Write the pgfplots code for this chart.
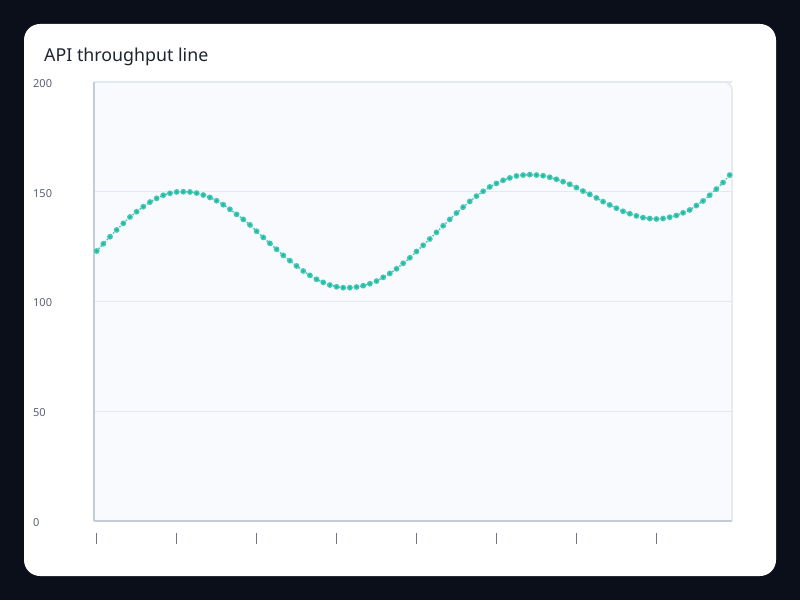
\documentclass[border=0pt]{standalone}
\usepackage{fontspec}
\setmainfont{Noto Sans}
\usepackage{pgfplots}
\pgfplotsset{compat=1.18}
\definecolor{pagebg}{RGB}{11,15,25}
\definecolor{plotbg}{RGB}{248,250,253}
\definecolor{axiscol}{RGB}{196,203,217}
\definecolor{gridcol}{RGB}{228,232,240}
\definecolor{linecol}{RGB}{20,184,160}
\definecolor{titlecol}{RGB}{30,36,48}
\definecolor{labelcol}{RGB}{90,97,112}
\definecolor{tickcol}{RGB}{110,118,134}

\begin{document}
\begin{tikzpicture}[x=1pt,y=1pt]
\useasboundingbox (0,0) rectangle (800,600);
\fill[pagebg] (0,0) rectangle (800,600);
\fill[white, rounded corners=16pt] (24,24) rectangle (776,576);
% plot area background, rounded top right corner
\fill[plotbg] (94,79) -- (94,518) [rounded corners=8pt]-- (732,518) [sharp corners]-- (732,79) -- cycle;
\draw[gridcol, line width=1.5pt, rounded corners=8pt] (94,518) -- (732,518) -- (732,79);
\node[anchor=base west, inner sep=0pt, font=\fontsize{17.8}{21}\selectfont, text=titlecol]
  at (44,538) {API throughput line};

\begin{axis}[
  at={(94pt,79pt)}, anchor=south west,
  scale only axis, width=638pt, height=439pt,
  xmin=-0.4, xmax=95.35, ymin=0, ymax=200,
  axis lines*=left,
  axis line style={draw=axiscol, line width=2pt, -},
  xtick={0,12,...,84},
  ytick={0,50,...,200},
  major tick length=0pt,
  ymajorgrids,
  grid style={gridcol, line width=1.5pt},
  /pgf/number format/assume math mode=true,
  yticklabel style={anchor=west, inner sep=0pt, xshift=-61pt, yshift=-1.5pt,
    font=\fontsize{11}{13}\selectfont, text=labelcol},
  xticklabel={\textcolor{tickcol}{\rule{1.2pt}{11pt}}},
  xticklabel style={anchor=north, inner sep=0pt, yshift=-12pt},
  clip=false,
]
\addplot[linecol!80, line width=1.5pt, dash pattern=on 1.4pt off 1.6pt,
  mark=*, mark size=2.1pt, mark options={solid, draw=none, fill=linecol}]
  coordinates {
  (0,123.0) (1,126.3) (2,129.5) (3,132.6) (4,135.6) (5,138.5) (6,140.9) (7,143.2)
  (8,145.3) (9,147.0) (10,148.4) (11,149.3) (12,149.9) (13,150.0) (14,149.9) (15,149.4)
  (16,148.5) (17,147.4) (18,145.9) (19,144.1) (20,142.0) (21,139.7) (22,137.4) (23,134.9)
  (24,132.0) (25,129.2) (26,126.5) (27,123.8) (28,121.0) (29,118.6) (30,116.2) (31,113.9)
  (32,111.9) (33,110.1) (34,108.7) (35,107.5) (36,106.7) (37,106.3) (38,106.3) (39,106.6)
  (40,107.2) (41,108.1) (42,109.3) (43,111.0) (44,112.8) (45,114.9) (46,117.4) (47,119.9)
  (48,122.8) (49,125.6) (50,128.5) (51,131.5) (52,134.5) (53,137.4) (54,140.3) (55,143.0)
  (56,145.6) (57,148.0) (58,150.2) (59,152.2) (60,153.8) (61,155.2) (62,156.3) (63,157.2)
  (64,157.6) (65,157.8) (66,157.6) (67,157.3) (68,156.6) (69,155.7) (70,154.6) (71,153.4)
  (72,151.9) (73,150.3) (74,148.8) (75,147.2) (76,145.5) (77,144.0) (78,142.5) (79,141.1)
  (80,140.0) (81,139.0) (82,138.2) (83,137.8) (84,137.6) (85,137.8) (86,138.4) (87,139.2)
  (88,140.4) (89,141.7) (90,143.7) (91,145.8) (92,148.4) (93,151.2) (94,154.2) (95,157.6)
  };
\end{axis}
\end{tikzpicture}
\end{document}
